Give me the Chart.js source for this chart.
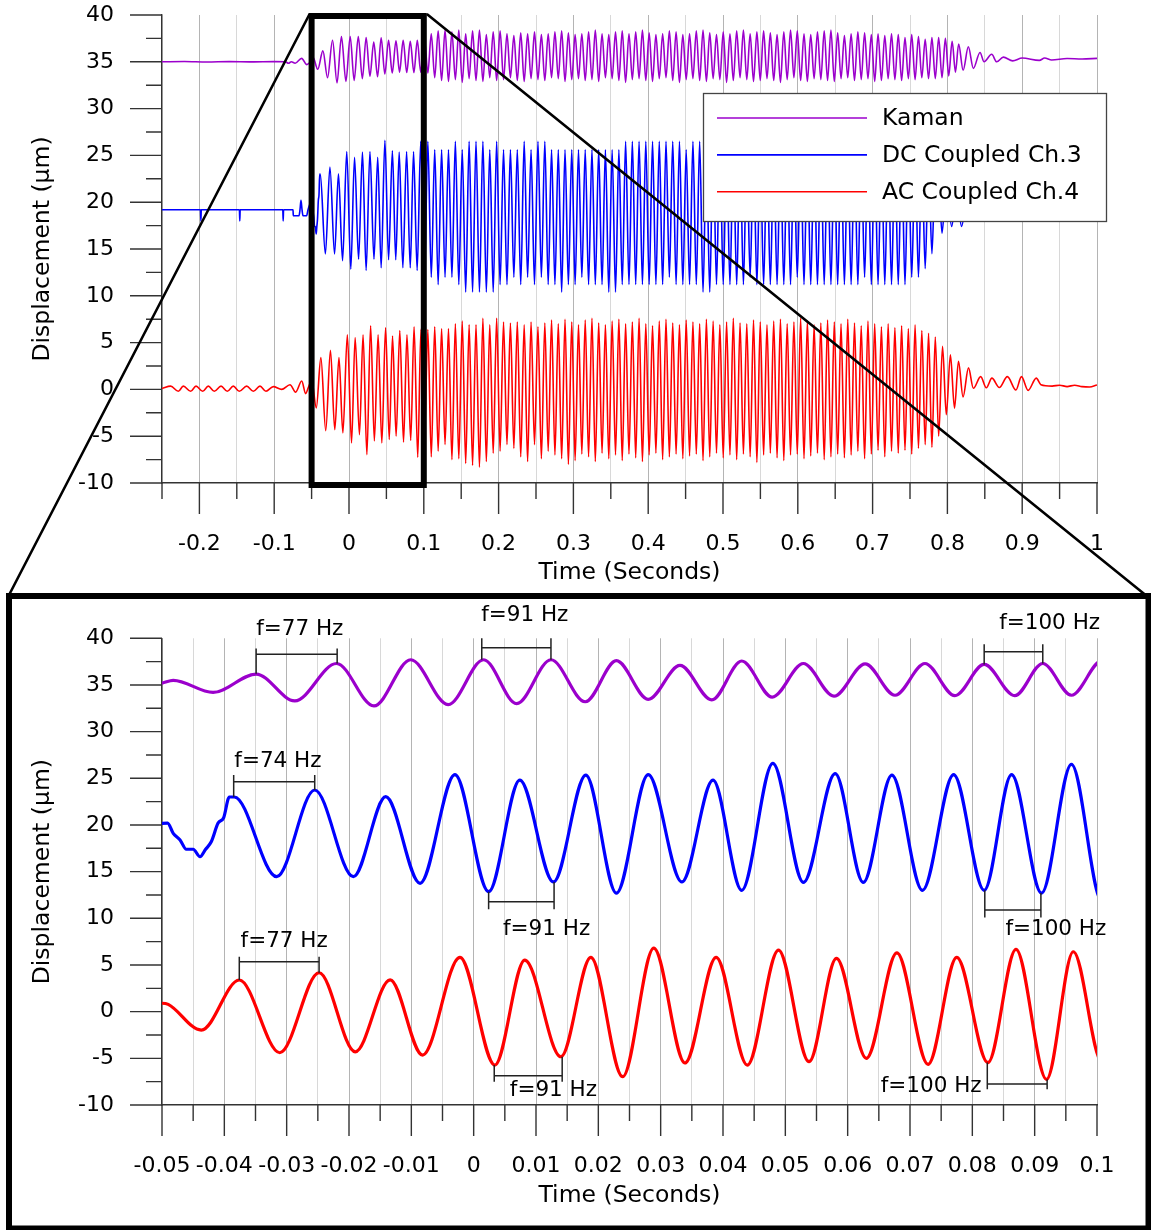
<!DOCTYPE html>
<html>
<head>
<meta charset="utf-8">
<script src="https://cdn.jsdelivr.net/npm/chart.js@4.4.1/dist/chart.umd.min.js"></script>
<style>
body { margin: 0; background: #fff; }
#wrap { position: relative; width: 1151px; height: 1230px; }
canvas { position: absolute; left: 0; }
#topChart { top: 0; }
#zoomChart { top: 590px; }
</style>
</head>
<body>
<div id="wrap">
<canvas id="topChart" width="1151" height="600"></canvas>
<canvas id="zoomChart" width="1151" height="640"></canvas>
</div>
<script>
// ---- data (time in s, displacement in um) ----
const seriesNames = ['Kaman', 'DC Coupled Ch.3', 'AC Coupled Ch.4'];
const seriesColors = ['#9b00cc', '#0000ff', '#ff0000'];

// before / at the trigger (also the detail shown in the zoomed panel)
const kamanEarlyT = [-0.25, -0.22, -0.19, -0.16, -0.13, -0.1, -0.085, -0.081, -0.077, -0.072,
  -0.0633, -0.0566, -0.05, -0.0482, -0.0418, -0.0349, -0.0287, -0.022, -0.016, -0.0101,
  -0.0041, 0.0016, 0.0069, 0.0124, 0.0179, 0.0229, 0.028, 0.0331, 0.0382, 0.043,
  0.0479, 0.0529, 0.0578, 0.0628, 0.0676, 0.0724, 0.0772, 0.0819, 0.0868, 0.0913, 0.0959];
const kamanEarlyV = [35.0, 35.03, 34.98, 35.02, 34.99, 35.02, 35.0, 34.85, 35.0, 34.85,
  35.37, 34.7, 35.2, 35.5, 34.2, 36.17, 33.3, 37.3, 32.75, 37.7,
  32.9, 37.7, 33.0, 37.7, 33.2, 37.6, 33.46, 37.1, 33.4, 37.57,
  33.7, 37.3, 33.8, 37.25, 33.9, 37.3, 33.85, 37.2, 33.85, 37.3, 33.9];

const dcEarlyT = [-0.25, -0.1985, -0.198, -0.1975, -0.1465, -0.146, -0.1455, -0.0885, -0.088, -0.0875,
  -0.0748, -0.0745, -0.0668, -0.0655, -0.0642, -0.0628, -0.0615, -0.0566, -0.0548, -0.05,
  -0.0491, -0.0482, -0.0471, -0.0461, -0.045, -0.0439, -0.043, -0.0421, -0.041, -0.0401,
  -0.0392, -0.0384, -0.0316, -0.0255, -0.0193, -0.0141, -0.0086, -0.003, 0.0024, 0.0074,
  0.0128, 0.018, 0.0229, 0.028, 0.0334, 0.0384, 0.043, 0.048, 0.0529, 0.058,
  0.0625, 0.0671, 0.072, 0.077, 0.0819, 0.0863, 0.0911, 0.0959];
const dcEarlyV = [19.2, 19.2, 18.0, 19.2, 19.2, 18.0, 19.2, 19.2, 18.0, 19.2,
  19.2, 18.56, 18.56, 19.2, 20.2, 19.2, 18.56, 18.56, 19.2, 20.18,
  20.2, 19.1, 18.4, 17.4, 17.4, 16.6, 17.4, 18.2, 20.2, 20.8,
  23.0, 23.0, 14.46, 23.75, 14.46, 23.03, 13.75, 25.4, 12.85, 24.8,
  13.9, 25.35, 12.7, 25.4, 13.9, 24.8, 13.0, 26.6, 13.85, 25.5,
  13.85, 25.35, 13.0, 25.4, 13.0, 25.4, 12.7, 26.5];

const acEarlyT = [-0.25, -0.2384, -0.2282, -0.2215, -0.2117, -0.2045, -0.1956, -0.1881, -0.1801, -0.1711,
  -0.1627, -0.1547, -0.1467, -0.1368, -0.1279, -0.119, -0.111, -0.1012, -0.09, -0.0789,
  -0.0713, -0.0632, -0.0579, -0.0544, -0.05, -0.049, -0.0437, -0.0376, -0.0311, -0.0248,
  -0.019, -0.0134, -0.0082, -0.0022, 0.0034, 0.0082, 0.014, 0.0188, 0.0239, 0.0289,
  0.0339, 0.0389, 0.0439, 0.0489, 0.0538, 0.0582, 0.063, 0.0679, 0.0729, 0.0775,
  0.0825, 0.087, 0.0919, 0.0962];
const acEarlyV = [0.1, 0.35, -0.2, 0.35, -0.2, 0.35, -0.2, 0.35, -0.2, 0.35,
  -0.2, 0.35, -0.2, 0.35, -0.2, 0.35, -0.2, 0.3, 0.0, 0.5,
  -0.3, 0.9, -0.45, 0.2, 0.9, 0.78, -1.97, 3.39, -4.4, 4.17,
  -4.3, 3.4, -4.65, 5.82, -5.72, 5.53, -4.83, 5.82, -6.97, 6.8,
  -5.5, 5.82, -5.72, 6.6, -5.36, 5.71, -5.0, 6.3, -5.64, 5.82,
  -5.46, 6.68, -7.25, 6.42];

// steady shaking: times of the DC/AC troughs and peaks (Kaman runs in antiphase)
const sweepTroughT = [0.1008, 0.1100, 0.1192, 0.1284, 0.1376, 0.1468, 0.1560, 0.1652, 0.1744, 0.1836,
  0.1928, 0.2020, 0.2112, 0.2204, 0.2296, 0.2388, 0.2480, 0.2572, 0.2663, 0.2753,
  0.2843, 0.2933, 0.3023, 0.3113, 0.3203, 0.3293, 0.3383, 0.3473, 0.3563, 0.3653,
  0.3743, 0.3833, 0.3923, 0.4013, 0.4103, 0.4193, 0.4283, 0.4373, 0.4463, 0.4553,
  0.4643, 0.4733, 0.4823, 0.4913, 0.5003, 0.5093, 0.5183, 0.5273, 0.5363, 0.5453,
  0.5543, 0.5633, 0.5723, 0.5813, 0.5903, 0.5993, 0.6083, 0.6173, 0.6263, 0.6353,
  0.6443, 0.6533, 0.6623, 0.6713, 0.6803, 0.6893, 0.6983, 0.7073, 0.7163, 0.7253,
  0.7343, 0.7433, 0.7523, 0.7613, 0.7703, 0.7793];
const sweepPeakT = [0.1054, 0.1146, 0.1238, 0.1330, 0.1422, 0.1514, 0.1606, 0.1698, 0.1790, 0.1882,
  0.1974, 0.2066, 0.2158, 0.2250, 0.2342, 0.2434, 0.2526, 0.2618, 0.2708, 0.2798,
  0.2888, 0.2978, 0.3068, 0.3158, 0.3248, 0.3338, 0.3428, 0.3518, 0.3608, 0.3698,
  0.3788, 0.3878, 0.3968, 0.4058, 0.4148, 0.4238, 0.4328, 0.4418, 0.4508, 0.4598,
  0.4688, 0.4778, 0.4868, 0.4958, 0.5048, 0.5138, 0.5228, 0.5318, 0.5408, 0.5498,
  0.5588, 0.5678, 0.5768, 0.5858, 0.5948, 0.6038, 0.6128, 0.6218, 0.6308, 0.6398,
  0.6488, 0.6578, 0.6668, 0.6758, 0.6848, 0.6938, 0.7028, 0.7118, 0.7208, 0.7298,
  0.7388, 0.7478, 0.7568, 0.7658, 0.7748, 0.7838];

const kamanHigh = [37.6, 38.0, 38.3, 38.4, 38.2, 38.4, 38.0, 38.3, 38.4, 37.9,
  38.2, 38.3, 38.0, 37.8, 38.1, 38.0, 38.2, 37.9, 38.0, 38.2,
  38.3, 38.1, 37.9, 38.0, 38.2, 38.4, 38.0, 37.9, 38.2, 38.3,
  38.0, 38.2, 38.4, 38.1, 37.9, 38.0, 38.3, 38.2, 37.9, 38.0,
  38.3, 38.4, 38.1, 37.9, 38.2, 38.0, 38.3, 38.4, 38.0, 38.2,
  38.3, 38.1, 37.9, 38.2, 38.4, 38.3, 38.0, 37.9, 38.2, 38.3,
  38.4, 38.1, 37.8, 38.0, 38.2, 38.1, 37.9, 38.0, 37.8, 38.0,
  37.9, 37.6, 37.9, 37.7, 37.4, 37.6];
const kamanLow = [33.8, 33.3, 33.0, 32.9, 33.1, 32.8, 33.2, 33.0, 32.9, 33.3,
  33.0, 33.1, 33.3, 33.0, 32.9, 33.2, 33.1, 33.0, 33.3, 33.2,
  32.9, 33.1, 33.2, 33.0, 33.1, 32.9, 33.3, 33.2, 33.0, 32.8,
  33.1, 33.2, 33.0, 32.9, 33.2, 33.3, 33.0, 32.8, 33.1, 33.2,
  33.0, 32.9, 33.2, 33.1, 32.8, 33.0, 33.3, 33.1, 32.9, 33.0,
  33.2, 33.0, 32.8, 33.1, 33.3, 33.0, 32.9, 33.2, 33.1, 33.0,
  32.9, 33.2, 33.3, 33.0, 33.1, 33.2, 32.9, 33.0, 33.2, 33.1,
  33.0, 33.2, 33.1, 33.3, 33.2, 33.2];

const dcTrough = [11.8, 12.0, 11.2, 12.0, 12.0, 11.2, 10.4, 10.4, 10.4, 10.4,
  10.4, 11.2, 11.2, 12.0, 11.2, 12.0, 11.2, 12.0, 11.2, 11.2,
  10.4, 11.2, 11.2, 12.0, 11.2, 11.2, 11.2, 10.4, 10.4, 11.2,
  11.2, 11.2, 11.2, 11.2, 11.2, 11.2, 12.0, 11.2, 11.2, 11.2,
  11.2, 10.4, 10.4, 11.2, 11.2, 11.2, 11.2, 11.2, 12.0, 11.2,
  11.2, 11.2, 11.2, 11.2, 11.2, 12.0, 11.2, 11.2, 11.2, 11.2,
  11.2, 11.2, 11.2, 11.2, 11.2, 12.0, 11.2, 11.2, 11.2, 11.2,
  11.2, 11.2, 12.0, 12.0, 12.9, 14.5];
const dcPeak = [26.5, 25.6, 25.6, 25.6, 26.5, 25.6, 26.5, 26.5, 26.5, 25.6,
  26.5, 25.6, 25.6, 25.6, 26.5, 25.6, 26.5, 26.5, 25.6, 25.6,
  25.6, 25.6, 25.6, 25.6, 25.6, 25.6, 25.6, 25.6, 25.6, 26.5,
  26.5, 26.5, 26.5, 26.5, 26.5, 26.5, 26.5, 26.5, 25.6, 26.5,
  26.5, 25.6, 26.5, 26.5, 25.6, 25.6, 25.6, 25.6, 25.6, 25.6,
  25.6, 25.6, 25.6, 25.6, 25.6, 25.6, 25.6, 25.6, 25.6, 25.6,
  25.6, 25.6, 25.6, 25.6, 25.6, 25.6, 25.6, 25.6, 25.6, 25.6,
  25.6, 25.6, 25.4, 25.0, 24.4, 23.8];

const acTrough = [-5.4, -7.2, -6.6, -5.9, -7.5, -7.4, -7.9, -8.1, -8.3, -7.7,
  -6.8, -6.6, -5.9, -6.3, -7.2, -7.7, -5.9, -7.4, -6.6, -7.0,
  -7.4, -8.0, -7.6, -6.9, -7.2, -7.7, -6.8, -7.4, -7.0, -7.6,
  -6.9, -7.3, -7.7, -7.0, -6.8, -7.5, -7.2, -6.9, -7.4, -7.1,
  -6.9, -7.6, -7.2, -6.8, -7.3, -7.0, -7.5, -6.9, -7.2, -7.8,
  -7.0, -6.8, -7.3, -7.6, -7.0, -6.9, -7.4, -7.1, -6.8, -7.5,
  -7.2, -6.9, -7.3, -7.0, -6.6, -7.4, -6.9, -6.5, -7.2, -6.6,
  -6.8, -6.5, -6.9, -6.3, -5.9, -6.2];
const acPeak = [6.4, 6.7, 6.5, 6.5, 7.0, 7.3, 6.9, 6.9, 7.6, 6.9,
  7.6, 7.2, 7.1, 7.2, 6.9, 7.2, 6.7, 7.1, 7.4, 7.0,
  7.5, 7.2, 6.9, 7.4, 7.6, 7.1, 6.9, 7.3, 7.5, 7.0,
  7.2, 7.6, 7.0, 6.8, 7.3, 7.5, 7.1, 6.9, 7.4, 7.2,
  7.0, 7.5, 7.3, 6.9, 7.2, 7.6, 7.1, 7.0, 7.4, 7.2,
  6.9, 7.3, 7.5, 7.0, 7.2, 7.6, 7.3, 6.9, 7.1, 7.4,
  7.2, 7.0, 7.5, 7.1, 6.8, 7.3, 7.0, 6.7, 7.0, 6.6,
  6.8, 6.5, 6.9, 6.3, 6.0, 5.6];

// ring-down after the shaking stops
const kamanLateT = [0.7883, 0.7928, 0.7973, 0.8018, 0.8063, 0.8108, 0.815, 0.821, 0.828, 0.8347,
  0.8436, 0.849, 0.8592, 0.8659, 0.8748, 0.8873, 0.90, 0.9229, 0.93, 0.9394, 0.96, 0.98, 1.0];
const kamanLateV = [37.6, 33.3, 37.5, 33.5, 37.2, 33.9, 36.9, 34.1, 36.6, 34.3,
  36.0, 35.0, 35.8, 35.0, 35.5, 35.1, 35.4, 35.15, 35.4, 35.2, 35.35, 35.3, 35.37];
const dcLateT = [0.7883, 0.7928, 0.7985, 0.8057, 0.812, 0.819, 0.826, 0.835, 0.86, 0.9, 0.95, 1.0];
const dcLateV = [23.0, 16.7, 22.0, 17.4, 21.0, 17.4, 20.5, 19.0, 19.6, 19.4, 19.5, 19.5];
const acLateT = [0.7883, 0.7935, 0.7985, 0.8040, 0.8095, 0.8148, 0.8209, 0.8282, 0.8347, 0.8445,
  0.852, 0.8595, 0.8694, 0.8802, 0.8916, 0.899, 0.9079, 0.9188, 0.925, 0.94,
  0.95, 0.96, 0.97, 0.98, 0.99, 1.0];
const acLateV = [-5.0, 4.6, -2.7, 3.7, -2.0, 3.0, -0.8, 2.3, 0.12, 1.36,
  0.18, 1.2, 0.2, 1.36, -0.07, 1.36, -0.1, 1.2, 0.5, 0.35,
  0.45, 0.3, 0.45, 0.3, 0.25, 0.47];

// period markers in the zoomed panel
const notes = [
  { text: 'f=77 Hz', t0: -0.0349, t1: -0.0219, y: 38.3, tip: 38.9, y0: 36.2, y1: 37.3, tx: -0.0279, ty: 41.0 },
  { text: 'f=74 Hz', t0: -0.0385, t1: -0.0255, y: 24.64, tip: 25.35, y0: 23.0, y1: 23.75, tx: -0.0314, ty: 26.8 },
  { text: 'f=91 Hz', t0: 0.0013, t1: 0.0124, y: 39.0, tip: 40.0, y0: 37.7, y1: 37.7, tx: 0.0082, ty: 42.4 },
  { text: 'f=100 Hz', t0: 0.0819, t1: 0.0913, y: 38.57, tip: 39.36, y0: 37.2, y1: 37.3, tx: 0.0924, ty: 41.6 },
  { text: 'f=91 Hz', t0: 0.0024, t1: 0.0129, y: 11.78, tip: 10.96, y0: 12.85, y1: 13.9, tx: 0.0117, ty: 8.82 },
  { text: 'f=100 Hz', t0: 0.0820, t1: 0.0910, y: 10.89, tip: 10.1, y0: 13.0, y1: 12.7, tx: 0.0934, ty: 8.82 },
  { text: 'f=77 Hz', t0: -0.0376, t1: -0.0248, y: 5.35, tip: 5.88, y0: 3.39, y1: 4.17, tx: -0.0304, ty: 7.5 },
  { text: 'f=91 Hz', t0: 0.0033, t1: 0.0142, y: -6.87, tip: -7.5, y0: -5.72, y1: -4.83, tx: 0.0128, ty: -8.47 },
  { text: 'f=100 Hz', t0: 0.0824, t1: 0.0920, y: -7.75, tip: -8.32, y0: -5.46, y1: -7.25, tx: 0.0734, ty: -8.05 }
];

// ---- build point lists ----
function toPoints(ts, vs) {
  return ts.map((t, i) => ({ x: t, y: vs[i] }));
}
function alternate(tA, vA, tB, vB) {
  const pts = [];
  tA.forEach((t, i) => {
    pts.push({ x: t, y: vA[i] });
    pts.push({ x: tB[i], y: vB[i] });
  });
  return pts;
}
function kamanPoints() {
  return [...toPoints(kamanEarlyT, kamanEarlyV), ...alternate(sweepTroughT, kamanHigh, sweepPeakT, kamanLow), ...toPoints(kamanLateT, kamanLateV)];
}
function dcPoints() {
  return [...toPoints(dcEarlyT, dcEarlyV), ...alternate(sweepTroughT, dcTrough, sweepPeakT, dcPeak), ...toPoints(dcLateT, dcLateV)];
}
function acPoints() {
  return [...toPoints(acEarlyT, acEarlyV), ...alternate(sweepTroughT, acTrough, sweepPeakT, acPeak), ...toPoints(acLateT, acLateV)];
}

function isMajor(v, step) {
  const r = v / step;
  return Math.abs(r - Math.round(r)) < 1e-6;
}

Chart.defaults.font.family = '"DejaVu Sans", "Liberation Sans", sans-serif';
Chart.defaults.color = '#000';

// tick marks: long on labelled values, short in between
const tickMarks = {
  id: 'tickMarks',
  afterDraw(chart, args, opts) {
    const ctx = chart.ctx;
    const xs = chart.scales.x, ys = chart.scales.y;
    ctx.save();
    ctx.strokeStyle = '#333';
    ctx.lineWidth = 1.4;
    ctx.beginPath();
    xs.ticks.forEach(t => {
      const px = xs.getPixelForValue(t.value);
      const len = isMajor(t.value, opts.xMajor) ? 31 : 16;
      ctx.moveTo(px, xs.top);
      ctx.lineTo(px, xs.top + len);
    });
    ys.ticks.forEach(t => {
      const py = ys.getPixelForValue(t.value);
      const len = isMajor(t.value, 5) ? 32 : 16;
      ctx.moveTo(ys.right, py);
      ctx.lineTo(ys.right - len, py);
    });
    ctx.stroke();
    ctx.restore();
  }
};

// legend box, zoom window and the two connector lines on the full record
const topDecor = {
  id: 'topDecor',
  afterDraw(chart) {
    const ctx = chart.ctx;
    const xs = chart.scales.x, ys = chart.scales.y;
    ctx.save();
    ctx.fillStyle = '#fff';
    ctx.fillRect(703, 93, 404, 129);
    ctx.strokeStyle = '#444';
    ctx.lineWidth = 1.3;
    ctx.strokeRect(703.5, 93.5, 403, 128);
    ctx.font = '23.5px "DejaVu Sans"';
    ctx.textBaseline = 'middle';
    chart.data.datasets.forEach((ds, i) => {
      const y = 118 + i * 36.9;
      ctx.strokeStyle = ds.borderColor;
      ctx.lineWidth = 1.6;
      ctx.beginPath();
      ctx.moveTo(717, y);
      ctx.lineTo(867, y);
      ctx.stroke();
      ctx.fillStyle = '#000';
      ctx.fillText(ds.label, 882, y + 1);
    });

    const x0 = xs.getPixelForValue(-0.05), x1 = xs.getPixelForValue(0.1);
    const y0 = ys.getPixelForValue(40) + 1, y1 = ys.getPixelForValue(-10) + 2;
    ctx.strokeStyle = '#000';
    ctx.lineWidth = 6;
    ctx.strokeRect(x0, y0, x1 - x0, y1 - y0);
    ctx.lineWidth = 2.6;
    ctx.beginPath();
    ctx.moveTo(x0 - 2, y0 - 2);
    ctx.lineTo(8, 597);
    ctx.moveTo(x1 + 3, y0 - 2);
    ctx.lineTo(1148, 597);
    ctx.stroke();
    ctx.restore();
  }
};

// frame and period markers on the zoomed panel
const zoomDecor = {
  id: 'zoomDecor',
  afterDraw(chart) {
    const ctx = chart.ctx;
    const xs = chart.scales.x, ys = chart.scales.y;
    ctx.save();
    ctx.strokeStyle = '#222';
    ctx.lineWidth = 1.5;
    ctx.beginPath();
    notes.forEach(n => {
      const a = xs.getPixelForValue(n.t0), b = xs.getPixelForValue(n.t1);
      const yl = ys.getPixelForValue(n.y), yt = ys.getPixelForValue(n.tip);
      ctx.moveTo(a, yl); ctx.lineTo(b, yl);
      ctx.moveTo(a, yt); ctx.lineTo(a, ys.getPixelForValue(n.y0));
      ctx.moveTo(b, yt); ctx.lineTo(b, ys.getPixelForValue(n.y1));
    });
    ctx.stroke();
    ctx.fillStyle = '#000';
    ctx.font = '21.5px "DejaVu Sans"';
    ctx.textAlign = 'center';
    ctx.textBaseline = 'middle';
    notes.forEach(n => {
      ctx.fillText(n.text, xs.getPixelForValue(n.tx), ys.getPixelForValue(n.ty));
    });
    ctx.strokeStyle = '#000';
    ctx.lineWidth = 6;
    ctx.strokeRect(9, 6, 1139.5, 632.5);
    ctx.restore();
  }
};

function makeDatasets(width) {
  const pts = [kamanPoints(), dcPoints(), acPoints()];
  return pts.map((data, i) => ({
    label: seriesNames[i],
    data: data,
    borderColor: seriesColors[i],
    borderWidth: width,
    pointRadius: 0,
    fill: false,
    cubicInterpolationMode: 'monotone'
  }));
}

// scale boxes get fixed sizes and no extra edge padding, so the plot area lands where it should
function fixBox(size, isX) {
  return s => {
    if (isX) s.height = size; else s.width = size;
    s.paddingTop = 0; s.paddingBottom = 0; s.paddingLeft = 0; s.paddingRight = 0;
  };
}

function makeOptions(xMin, xMax, xStep, xMajor, xDigits, yPadTop, xHeight, titlePad) {
  return {
    responsive: false,
    animation: false,
    events: [],
    layout: { padding: { top: yPadTop, right: 54, left: 0, bottom: 0 } },
    plugins: {
      legend: { display: false },
      tooltip: { enabled: false },
      tickMarks: { xMajor: xMajor }
    },
    scales: {
      x: {
        type: 'linear',
        min: xMin,
        max: xMax,
        afterFit: fixBox(xHeight, true),
        grid: {
          drawTicks: false,
          lineWidth: 1,
          color: c => isMajor(c.tick.value, xMajor) ? '#b4b4b4' : '#d8d8d8'
        },
        border: { display: true, color: '#333', width: 1.4 },
        ticks: {
          stepSize: xStep,
          maxTicksLimit: 200,
          autoSkip: false,
          maxRotation: 0,
          padding: 48,
          font: { size: 22 },
          callback: v => isMajor(v, xMajor) ? String(Number(v.toFixed(xDigits))) : ''
        },
        title: {
          display: true,
          text: 'Time (Seconds)',
          font: { size: 23.5 },
          padding: { top: 0, bottom: titlePad }
        }
      },
      y: {
        min: -10,
        max: 40,
        afterFit: fixBox(162, false),
        grid: { display: false, drawTicks: false },
        border: { display: true, color: '#333', width: 1.4 },
        ticks: {
          stepSize: 2.5,
          autoSkip: false,
          padding: 48,
          font: { size: 22 },
          callback: v => isMajor(v, 5) ? String(v) : ''
        },
        title: {
          display: true,
          text: 'Displacement (\u03bcm)',
          font: { size: 23.5 },
          padding: { top: 29, bottom: 0 }
        }
      }
    }
  };
}

const topChart = new Chart(document.getElementById('topChart').getContext('2d'), {
  type: 'line',
  data: { datasets: makeDatasets(1.6) },
  options: makeOptions(-0.25, 1.0, 0.05, 0.1, 1, 15, 117, 13),
  plugins: [tickMarks, topDecor]
});

const zoomChart = new Chart(document.getElementById('zoomChart').getContext('2d'), {
  type: 'line',
  data: { datasets: makeDatasets(3.2) },
  options: makeOptions(-0.05, 0.1, 0.005, 0.01, 2, 48.3, 125, 20),
  plugins: [tickMarks, zoomDecor]
});
</script>
</body>
</html>
